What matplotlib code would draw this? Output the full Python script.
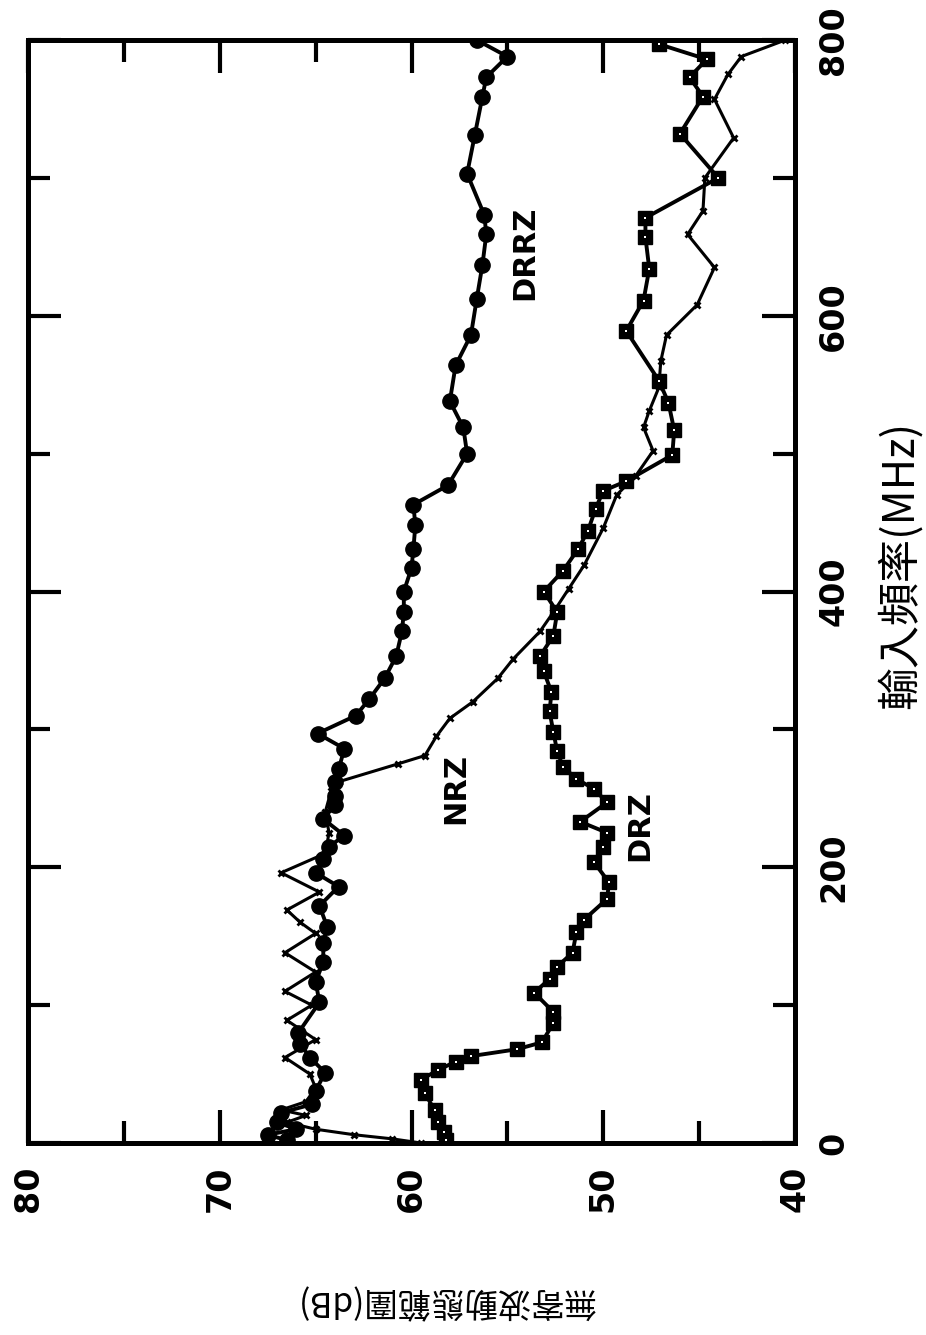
import matplotlib
matplotlib.use("Agg")
import matplotlib.pyplot as plt
from matplotlib.ticker import MultipleLocator

plt.rcParams['font.family'] = ['DejaVu Sans']

# DRRZ (filled circles)
drrz_f = [2, 6, 10, 15, 22, 28, 38, 51, 62, 72, 80, 102, 117, 131, 145, 157,
          172, 186, 196, 206, 215, 223, 235, 245, 252, 262, 271, 286, 297, 310,
          322, 337, 353, 371, 385, 400, 417, 431, 448, 463, 477, 500, 519, 538,
          564, 586, 612, 637, 659, 673, 703, 731, 759, 773, 788, 800]
drrz_db = [66.5, 67.5, 66.0, 67.0, 66.8, 65.2, 65.0, 64.5, 65.3, 65.8, 65.9,
           64.8, 65.0, 64.6, 64.6, 64.4, 64.8, 63.8, 65.0, 64.6, 64.3, 63.5,
           64.6, 64.0, 64.0, 64.0, 63.8, 63.5, 64.9, 62.9, 62.2, 61.4, 60.8,
           60.5, 60.4, 60.4, 60.0, 59.9, 59.8, 59.9, 58.1, 57.1, 57.3, 58.0,
           57.7, 56.9, 56.6, 56.3, 56.1, 56.2, 57.1, 56.7, 56.3, 56.1, 55.0, 56.6]

# NRZ (small crosses)
nrz_f = [0, 3, 6, 10, 15, 20, 24, 30, 40, 50, 62, 75, 89, 100, 110, 124, 138,
         152, 160, 169, 182, 196, 210, 225, 240, 255, 262, 275, 281, 295, 308,
         320, 337, 351, 371, 385, 402, 419, 446, 470, 484, 502, 519, 531, 548,
         567, 586, 608, 635, 659, 676, 700, 729, 757, 775, 788, 800]
nrz_db = [59.5, 61.0, 63.0, 65.0, 66.5, 65.5, 66.8, 65.5, 65.0, 65.3, 66.6,
          65.0, 66.5, 65.2, 66.6, 65.0, 66.6, 65.0, 65.8, 66.5, 64.8, 66.8,
          64.5, 64.3, 64.5, 64.2, 63.8, 60.7, 59.3, 58.7, 58.0, 56.8, 55.5,
          54.7, 53.3, 52.6, 51.8, 51.0, 50.0, 49.3, 48.3, 47.4, 47.9, 47.6,
          47.1, 47.0, 46.7, 45.1, 44.2, 45.6, 44.8, 44.7, 43.2, 44.2, 43.5,
          42.8, 40.5]

# DRZ (squares)
drz_f = [2, 8, 15, 24, 36, 46, 53, 59, 63, 68, 73, 87, 95, 109, 119, 128, 138,
         153, 162, 177, 189, 204, 215, 225, 233, 247, 257, 264, 273, 284, 298,
         313, 327, 342, 353, 368, 385, 400, 415, 431, 444, 460, 473, 480, 499,
         517, 537, 553, 589, 611, 634, 657, 671, 700, 732, 759, 773, 786, 797]
drz_db = [58.2, 58.3, 58.6, 58.8, 59.3, 59.5, 58.6, 57.7, 56.9, 54.5, 53.2,
          52.6, 52.6, 53.6, 52.8, 52.4, 51.6, 51.4, 51.0, 49.8, 49.7, 50.5,
          50.0, 49.8, 51.2, 49.8, 50.5, 51.4, 52.1, 52.4, 52.6, 52.8, 52.7,
          53.1, 53.3, 52.6, 52.4, 53.1, 52.1, 51.3, 50.8, 50.4, 50.0, 48.8,
          46.4, 46.3, 46.6, 47.1, 48.8, 47.9, 47.6, 47.8, 47.8, 44.0, 46.0,
          44.8, 45.5, 44.6, 47.1]

fig = plt.figure(figsize=(9.26, 13.35), dpi=100)
ax = fig.add_axes([28 / 926, 192 / 1335, 767 / 926, 1103 / 1335])

# the page is turned: dB runs along the bottom, frequency up the right side
ax.plot(drrz_db, drrz_f, color="black", lw=2.8, marker="o", ms=11)
ax.plot(nrz_db, nrz_f, color="black", lw=2.2, marker="x", ms=5, mew=2)
ax.plot(drz_db, drz_f, color="black", lw=2.8, marker="s", ms=10)
ax.plot(drz_db, drz_f, ls="none", marker="s", ms=2, mew=0, color="white")

ax.set_xlim(80, 40)
ax.set_ylim(0, 800)

ax.xaxis.set_major_locator(MultipleLocator(10))
ax.xaxis.set_minor_locator(MultipleLocator(5))
ax.yaxis.set_major_locator(MultipleLocator(200))
ax.yaxis.set_minor_locator(MultipleLocator(100))

ax.tick_params(which="both", direction="in", top=True, bottom=True,
               left=True, right=True, labelleft=False, labelright=True,
               width=3, pad=16)
ax.tick_params(which="major", length=24, labelsize=24)
ax.tick_params(which="minor", length=16)
for lab in ax.get_xticklabels() + ax.get_yticklabels():
    lab.set_rotation(90)
    lab.set_fontweight("bold")
for lab in ax.get_xticklabels():
    lab.set_va("top")
    lab.set_ha("center")
for lab in ax.get_yticklabels():
    lab.set_va("center")
    lab.set_ha("left")

for s in ax.spines.values():
    s.set_linewidth(3.6)

ax.text(54.1, 646, "DRRZ", rotation=90, fontsize=22, fontweight="bold",
        ha="center", va="center")
ax.text(57.7, 257, "NRZ", rotation=90, fontsize=22, fontweight="bold",
        ha="center", va="center")
ax.text(48.1, 230, "DRZ", rotation=90, fontsize=22, fontweight="bold",
        ha="center", va="center")

fig.text(900 / 926, 1 - 565 / 1335, "輸入頻率(MHz)", rotation=90,
         fontsize=31, family=["Noto Sans CJK TC", "DejaVu Sans"],
         ha="center", va="center")
fig.text(445 / 926, 1 - 1300 / 1335, "無寄波動態範圍(dB)", rotation=180,
         fontsize=24, family=["Noto Sans CJK TC", "DejaVu Sans"],
         ha="center", va="center")

fig.savefig("out.png", dpi=100)
